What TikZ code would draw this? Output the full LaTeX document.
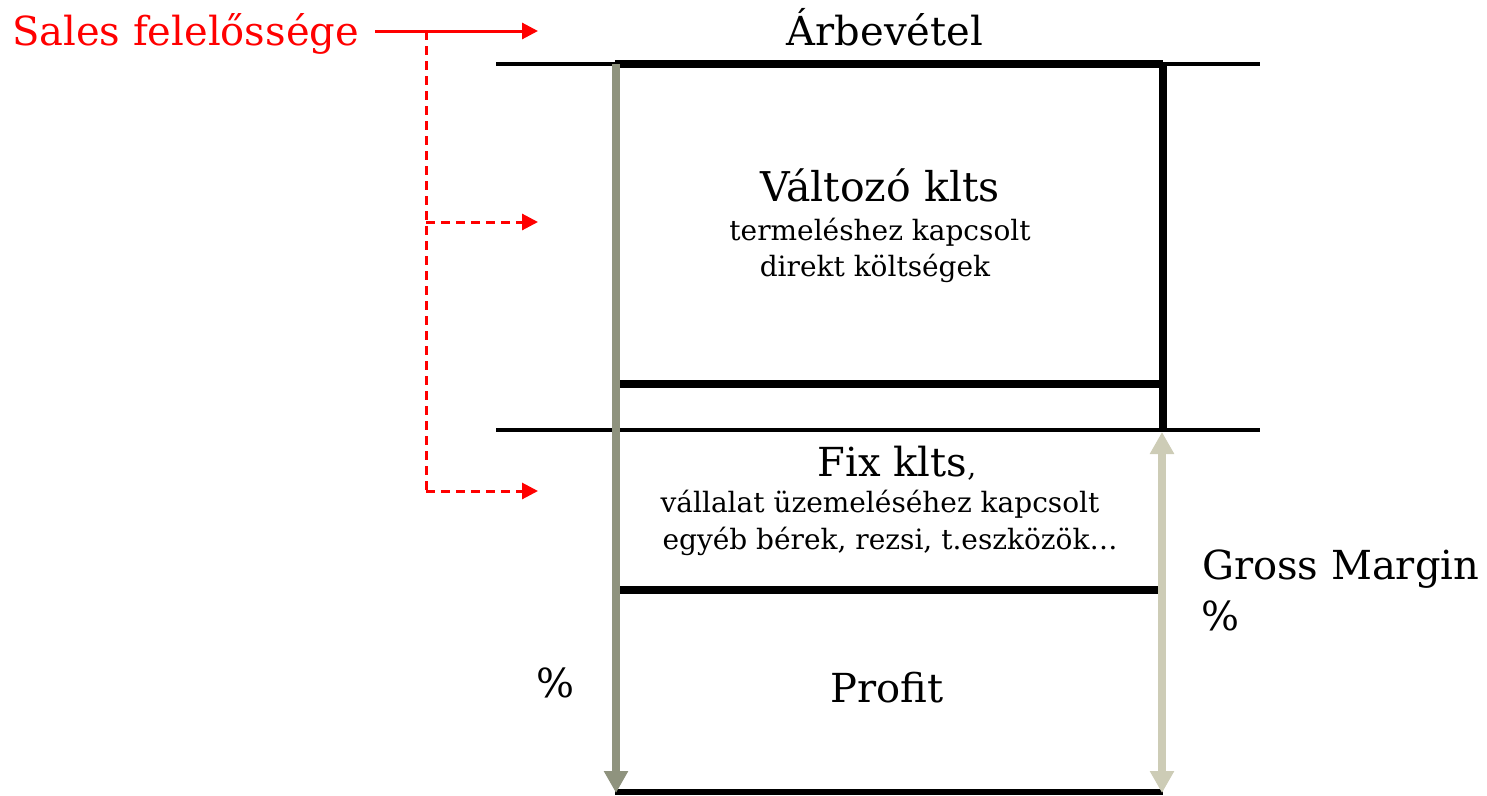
\documentclass[tikz,border=0pt]{standalone}
\usepackage{fontspec}
\setmainfont{DejaVu Serif}
\usetikzlibrary{arrows.meta}
\definecolor{salesred}{RGB}{255,0,0}
\definecolor{gmgrey}{RGB}{143,147,126}
\definecolor{gmbeige}{RGB}{205,204,182}
\tikzset{
  big/.style={font=\fontsize{40}{44}\selectfont, inner sep=0pt, anchor=base},
  small/.style={font=\fontsize{28}{32}\selectfont, inner sep=0pt, anchor=base},
  thinrule/.style={line width=4pt, black},
  thickrule/.style={line width=8pt, black},
  redtip/.style={-{Triangle[length=16pt,width=16pt]}},
  redarrow/.style={line width=3pt, salesred, redtip},
  reddash/.style={line width=3pt, salesred, dash pattern=on 9pt off 6pt},
  greyarrow/.style={line width=8pt, gmgrey, -{Triangle[length=22pt,width=23pt]}},
  beigearrow/.style={line width=8pt, gmbeige, {Triangle[length=22pt,width=23pt]}-{Triangle[length=22pt,width=23pt]}},
}
\begin{document}
\begin{tikzpicture}[x=1pt,y=-1pt]
\useasboundingbox (0,0) rectangle (1487,795);

% corner points of the block
\coordinate (tl) at (615,64);
\coordinate (tr) at (1163,64);
\coordinate (bl) at (615,792);
\coordinate (br) at (1163,792);

% thin horizontal rules
\coordinate (t1) at (496,64);
\coordinate (t2) at (1260,64);
\coordinate (m1) at (496,430);
\coordinate (m2) at (1260,430);
\draw[thinrule] (t1) -- (t2);
\draw[thinrule] (m1) -- (m2);

% thick frame lines
\coordinate (rmid) at (1163,430);
\coordinate (v1) at (620,384);
\coordinate (v2) at (1163,384);
\coordinate (f1) at (620,590);
\coordinate (f2) at (1158,590);
\draw[thickrule] (tl) -- (tr);
\draw[thickrule] (tr) -- (rmid);
\draw[thickrule] (v1) -- (v2);
\draw[thickrule] (f1) -- (f2);
\draw[line width=6pt] (bl) -- (br);

% margin arrows
\coordinate (gtop) at (616,64);
\coordinate (gbot) at (616,793);
\draw[greyarrow] (gtop) -- (gbot);
\coordinate (btop) at (1162,432);
\coordinate (bbot) at (1162,793);
\draw[beigearrow] (btop) -- (bbot);

% labels
\node[big, text=salesred, anchor=base west] (sales) at (12,45) {Sales felelőssége};
\node[big] (arb) at (885,45) {Árbevétel};
\node[big, font=\fontsize{41}{45}\selectfont] (valt) at (880,201) {Változó klts};
\node[small] (valt1) at (880,240) {termeléshez kapcsolt};
\node[small] (valt2) at (875,276) {direkt költségek};
\node[big] (fix) at (897,476) {Fix klts\fontsize{28}{32}\selectfont,};
\node[small] (fix1) at (880,512) {vállalat üzemeléséhez kapcsolt};
\node[small] (fix2) at (890,549) {egyéb bérek, rezsi, t.eszközök…};
\node[big] (profit) at (887,702) {Profit};
\node[big, anchor=base west] (gm) at (1202,579) {Gross Margin};
\node[big, anchor=base west] (gmp) at (1201,630) {\%};
\node[big] (pp) at (555,697) {\%};

% responsibility arrows
\coordinate (a0) at (375,31);
\coordinate (a1) at (538,31);
\coordinate (j) at (426,31);
\coordinate (j1) at (426,222);
\coordinate (j2) at (426,491);
\coordinate (a2) at (538,222);
\coordinate (a3) at (538,491);
\draw[redarrow] (a0) -- (a1);
\draw[reddash] (j) -- (j2);
\draw[reddash, redtip] (j1) -- (a2);
\draw[reddash, redtip] (j2) -- (a3);
\end{tikzpicture}
\end{document}
